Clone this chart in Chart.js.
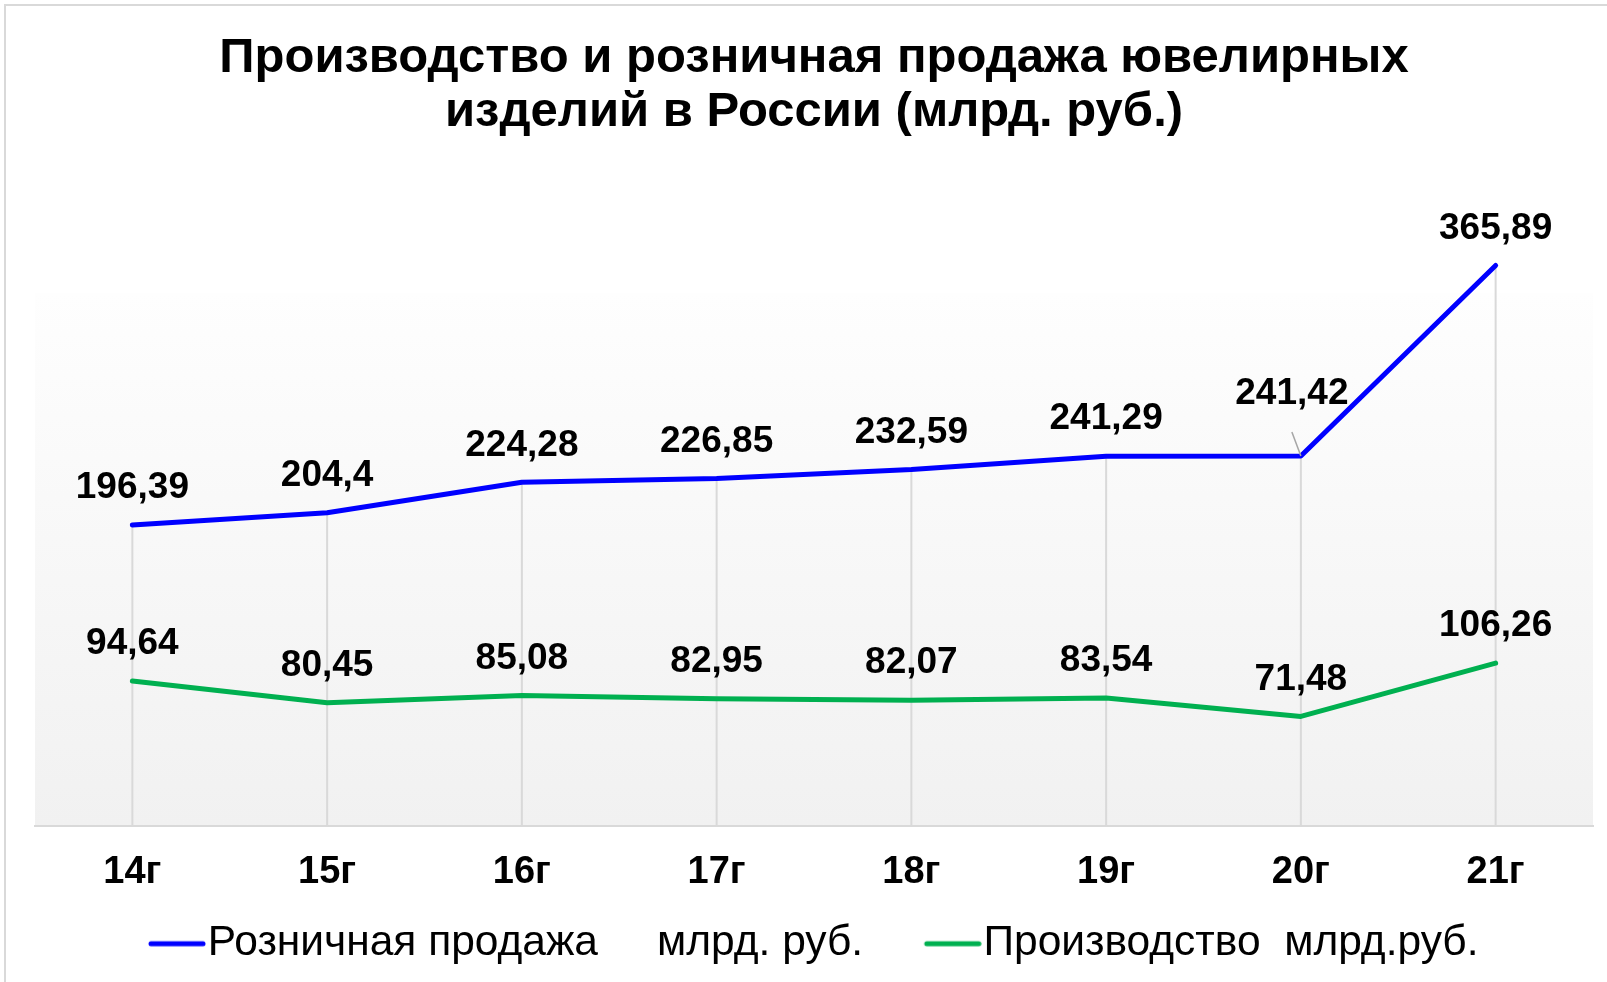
<!DOCTYPE html>
<html>
<head>
<meta charset="utf-8">
<script src="https://cdn.jsdelivr.net/npm/chart.js@4.4.1/dist/chart.umd.min.js"></script>
<style>
  body { margin: 0; background: #fff; overflow: hidden; }
  #wrap { position: relative; width: 1607px; height: 982px; }
  #frame { position: absolute; left: 4px; top: 4px; right: -10px; bottom: -10px;
           border-left: 2px solid #d9d9d9; border-top: 2px solid #d9d9d9; }
  canvas { position: absolute; left: 0; top: 0; }
</style>
</head>
<body>
<div id="wrap">
  <div id="frame"></div>
  <canvas id="chart"></canvas>
</div>
<script>
const years = ["14г","15г","16г","17г","18г","19г","20г","21г"];

const retail = [196.39,204.4,224.28,226.85,232.59,241.29,241.42,365.89];
const production = [94.64,80.45,85.08,82.95,82.07,83.54,71.48,106.26];

const seriesNames = [
    "Розничная продажа     млрд. руб.     ",
    "Производство  млрд.руб."
];

const titleLines = [
    "Производство и розничная продажа ювелирных",
    "изделий в России (млрд. руб.)"
];

const FONT = "'Liberation Sans', Arial, sans-serif";

// one label is pulled up-left with a leader line, like in the original
const movedLabels = { "0-6": [-9, -25] };

// legend marker: a short thick line that sits right before the text
function legendLine(color){
    const c = document.createElement("canvas");
    c.width = 76;
    c.height = 10;
    const g = c.getContext("2d");
    g.strokeStyle = color;
    g.lineWidth = 5;
    g.lineCap = "round";
    g.beginPath();
    g.moveTo(21, 5);
    g.lineTo(73, 5);
    g.stroke();
    return c;
}

// gradient plot background
const plotBackground = {
    id: "plotBackground",
    beforeDraw(chart){
        const a = chart.chartArea;
        const ctx = chart.ctx;
        const g = ctx.createLinearGradient(0, a.top, 0, a.bottom);
        g.addColorStop(0, "#fefefe");
        g.addColorStop(1, "#f1f1f1");
        ctx.save();
        ctx.fillStyle = g;
        ctx.fillRect(a.left, a.top, a.right - a.left, a.bottom - a.top);
        ctx.restore();
    }
};

// drop lines from the upper series down to the axis
const dropLines = {
    id: "dropLines",
    beforeDatasetsDraw(chart){
        const ctx = chart.ctx;
        const bottom = chart.chartArea.bottom;
        ctx.save();
        ctx.strokeStyle = "#d9d9d9";
        ctx.lineWidth = 2;
        chart.getDatasetMeta(0).data.forEach(p => {
            ctx.beginPath();
            ctx.moveTo(p.x, p.y);
            ctx.lineTo(p.x, bottom);
            ctx.stroke();
        });
        ctx.restore();
    }
};

// value labels above each point
const valueLabels = {
    id: "valueLabels",
    afterDatasetsDraw(chart){
        const ctx = chart.ctx;
        ctx.save();
        ctx.font = "bold 37px " + FONT;
        ctx.fillStyle = "#000";
        ctx.textAlign = "center";
        ctx.textBaseline = "middle";
        chart.data.datasets.forEach((ds, i) => {
            chart.getDatasetMeta(i).data.forEach((p, j) => {
                const text = String(ds.data[j]).replace(".", ",");
                const moved = movedLabels[i + "-" + j];
                const shift = moved || [0, 0];
                const x = p.x + shift[0];
                const y = p.y - 37 + shift[1];
                if (moved) {
                    ctx.strokeStyle = "#a6a6a6";
                    ctx.lineWidth = 1.5;
                    ctx.beginPath();
                    ctx.moveTo(x, y + 38);
                    ctx.lineTo(p.x, p.y);
                    ctx.stroke();
                }
                ctx.fillText(text, x, y);
            });
        });
        ctx.restore();
    }
};

new Chart(document.getElementById("chart"),{

    type:"line",

    data:{
        labels:years,

        datasets:[{
            label:seriesNames[0],
            data:retail,
            borderColor:"#0000ff",
            backgroundColor:"#0000ff",
            borderWidth:5,
            borderCapStyle:"round",
            borderJoinStyle:"round",
            pointRadius:0,
            pointStyle:legendLine("#0000ff"),
            tension:0,
            clip:false
        },{
            label:seriesNames[1],
            data:production,
            borderColor:"#00b050",
            backgroundColor:"#00b050",
            borderWidth:5,
            borderCapStyle:"round",
            borderJoinStyle:"round",
            pointRadius:0,
            pointStyle:legendLine("#00b050"),
            tension:0,
            clip:false
        }]
    },

    options:{
        responsive:true,
        maintainAspectRatio:false,
        animation:false,
        layout:{
            padding:{ left:35, right:14, top:0, bottom:7 }
        },
        plugins:{
            title:{
                display:true,
                text:titleLines,
                color:"#000",
                font:{ family:FONT, size:49, weight:"bold", lineHeight:1.09 },
                padding:{ top:32, bottom:154 }
            },
            legend:{
                position:"bottom",
                labels:{
                    usePointStyle:true,
                    pointStyleWidth:37,
                    color:"#000",
                    font:{ family:FONT, size:42.5 },
                    padding:3
                }
            },
            tooltip:{ enabled:false }
        },
        scales:{
            x:{
                offset:true,
                grid:{ display:false, drawTicks:false },
                border:{ display:true, color:"#d9d9d9", width:2 },
                ticks:{
                    color:"#000",
                    padding:24,
                    font:{ family:FONT, size:38, weight:"bold" }
                }
            },
            y:{
                display:false,
                min:0,
                max:348
            }
        }
    },

    plugins:[plotBackground, dropLines, valueLabels]
});
</script>
</body>
</html>
